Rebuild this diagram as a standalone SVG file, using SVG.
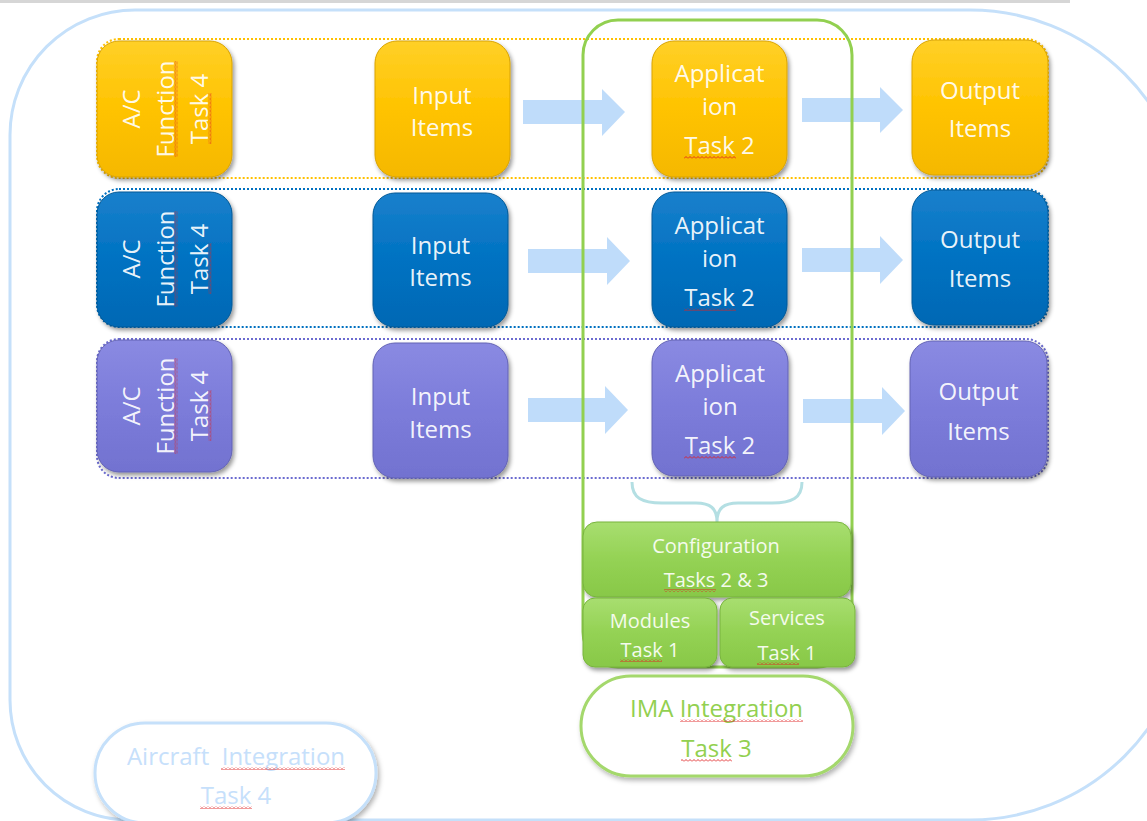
<svg xmlns="http://www.w3.org/2000/svg" width="1147" height="821" viewBox="0 0 1147 821">
<defs>
<style>
.t{font-family:"Open Sans","Liberation Sans",sans-serif;font-size:24px;fill:#ffffff;fill-opacity:0.93;text-anchor:middle}
.ts{font-family:"Open Sans","Liberation Sans",sans-serif;font-size:20px;fill:#f4fbec;text-anchor:middle}
.tg{font-family:"Open Sans","Liberation Sans",sans-serif;font-size:24px;fill:#92d050;text-anchor:middle}
.tb{font-family:"Open Sans","Liberation Sans",sans-serif;font-size:24px;fill:#c6e0fb;text-anchor:middle}
.ny{fill:url(#gY);stroke:#d9a300;stroke-width:1}
.nb{fill:url(#gB);stroke:#005896;stroke-width:1}
.np{fill:url(#gP);stroke:#6262b4;stroke-width:1}
.ng{fill:url(#gG);stroke:#78b43e;stroke-width:1}
.arr{fill:#bfdcfa}
.sq{fill:url(#sq)}
</style>
<linearGradient id="gY" x1="0" y1="0" x2="0" y2="1"><stop offset="0" stop-color="#ffd027"/><stop offset="0.5" stop-color="#ffc300"/><stop offset="1" stop-color="#f5b800"/></linearGradient>
<linearGradient id="gB" x1="0" y1="0" x2="0" y2="1"><stop offset="0" stop-color="#1a80cc"/><stop offset="0.5" stop-color="#0072c2"/><stop offset="1" stop-color="#0068b4"/></linearGradient>
<linearGradient id="gP" x1="0" y1="0" x2="0" y2="1"><stop offset="0" stop-color="#8a8ae2"/><stop offset="0.5" stop-color="#7c7cda"/><stop offset="1" stop-color="#7272d0"/></linearGradient>
<linearGradient id="gG" x1="0" y1="0" x2="0" y2="1"><stop offset="0" stop-color="#a8de70"/><stop offset="0.5" stop-color="#94d254"/><stop offset="1" stop-color="#88c848"/></linearGradient>
<filter id="sh" x="-10%" y="-10%" width="130%" height="130%"><feDropShadow dx="2" dy="3" stdDeviation="2" flood-color="#000" flood-opacity="0.4"/></filter>
<filter id="shl" x="-10%" y="-10%" width="130%" height="130%"><feDropShadow dx="2" dy="3" stdDeviation="2.5" flood-color="#000" flood-opacity="0.3"/></filter>
<pattern id="sq" width="4" height="3" patternUnits="userSpaceOnUse"><path d="M0,2.5 L2,0.5 L4,2.5" fill="none" stroke="#e02020" stroke-width="0.9"/></pattern>
</defs>

<rect x="0" y="0" width="1070" height="3" fill="#d6d6d6"/>

<g id="frame">
<path d="M135,10 L970,10 A219,219 0 0 1 1189,229 L1189,601 A219,219 0 0 1 970,820 L130,820 A120,120 0 0 1 10,700 L10,135 A125,125 0 0 1 135,10 Z" fill="none" stroke="#c5e0fa" stroke-width="3"/>
</g>

<g id="rows" fill="none" stroke-width="2" stroke-dasharray="2 2">
<rect x="97" y="39" width="951" height="139" rx="22" stroke="#ffc000"/>
<rect x="97" y="189" width="951" height="138" rx="22" stroke="#0070c0"/>
<rect x="97" y="339" width="951" height="139" rx="22" stroke="#6b6bd0"/>
</g>

<g id="connectors">
<polygon class="arr" points="523,100 602,100 602,89 625,112 602,136 602,124 523,124"/>
<polygon class="arr" points="802,98 880,98 880,87 903,110 880,133 880,122 802,122"/>
<polygon class="arr" points="528,249 607,249 607,237 630,261 607,285 607,273 528,273"/>
<polygon class="arr" points="802,248 880,248 880,236 903,260 880,284 880,272 802,272"/>
<polygon class="arr" points="528,398 605,398 605,386 628,410 605,434 605,422 528,422"/>
<polygon class="arr" points="803,399 882,399 882,387 905,411 882,435 882,423 803,423"/>
<path d="M632,482 C632,498 642,503 662,503 L696,503 C710,503 717,508 717,522 C717,508 724,503 738,503 L772,503 C792,503 802,498 802,482" fill="none" stroke="#b4dfe3" stroke-width="3"/>
</g>

<g id="ima-container">
<rect x="583" y="20" width="269" height="647" rx="35" fill="none" stroke="#92d050" stroke-width="3"/>
</g>

<!-- Yellow row -->
<g id="ac-yellow">
<rect class="ny" x="97" y="41" width="135" height="136" rx="22" filter="url(#sh)"/>
<g transform="translate(164.5,109) rotate(-90)">
<text class="t" x="0" y="-25">A/C</text>
<text class="t" x="0" y="9">Function</text>
<text class="t" x="0" y="43">Task 4</text>
<rect class="sq" x="-48" y="10" width="96" height="3"/>
<rect class="sq" x="-35" y="44" width="51" height="3"/>
</g>
</g>
<g id="in-yellow">
<rect class="ny" x="375" y="41" width="135" height="136" rx="22" filter="url(#sh)"/>
<text class="t" x="442" y="104">Input</text>
<text class="t" x="442" y="136">Items</text>
</g>
<g id="app-yellow">
<rect class="ny" x="652" y="41" width="135" height="136" rx="22" filter="url(#sh)"/>
<text class="t" x="719.5" y="82">Applicat</text>
<text class="t" x="719.5" y="115">ion</text>
<text class="t" x="719.5" y="154">Task 2</text>
<rect class="sq" x="684" y="156" width="52" height="3"/>
</g>
<g id="out-yellow">
<rect class="ny" x="912" y="40" width="136" height="135" rx="22" filter="url(#sh)"/>
<text class="t" x="980" y="99">Output</text>
<text class="t" x="980" y="137">Items</text>
</g>

<!-- Blue row -->
<g id="ac-blue">
<rect class="nb" x="97" y="192" width="135" height="135" rx="22" filter="url(#sh)"/>
<g transform="translate(164.5,259) rotate(-90)">
<text class="t" x="0" y="-25">A/C</text>
<text class="t" x="0" y="9">Function</text>
<text class="t" x="0" y="43">Task 4</text>
<rect class="sq" x="-48" y="10" width="96" height="3"/>
<rect class="sq" x="-35" y="44" width="51" height="3"/>
</g>
</g>
<g id="in-blue">
<rect class="nb" x="373" y="193" width="135" height="134" rx="22" filter="url(#sh)"/>
<text class="t" x="440.5" y="254">Input</text>
<text class="t" x="440.5" y="286">Items</text>
</g>
<g id="app-blue">
<rect class="nb" x="652" y="192" width="135" height="135" rx="22" filter="url(#sh)"/>
<text class="t" x="719.5" y="234">Applicat</text>
<text class="t" x="719.5" y="267">ion</text>
<text class="t" x="719.5" y="306">Task 2</text>
<rect class="sq" x="684" y="308" width="52" height="3"/>
</g>
<g id="out-blue">
<rect class="nb" x="912" y="190" width="136" height="135" rx="22" filter="url(#sh)"/>
<text class="t" x="980" y="248">Output</text>
<text class="t" x="980" y="287">Items</text>
</g>

<!-- Purple row -->
<g id="ac-purple">
<rect class="np" x="97" y="340" width="135" height="132" rx="22" filter="url(#sh)"/>
<g transform="translate(164.5,406) rotate(-90)">
<text class="t" x="0" y="-25">A/C</text>
<text class="t" x="0" y="9">Function</text>
<text class="t" x="0" y="43">Task 4</text>
<rect class="sq" x="-48" y="10" width="96" height="3"/>
<rect class="sq" x="-35" y="44" width="51" height="3"/>
</g>
</g>
<g id="in-purple">
<rect class="np" x="373" y="343" width="135" height="135" rx="22" filter="url(#sh)"/>
<text class="t" x="440.5" y="405">Input</text>
<text class="t" x="440.5" y="438">Items</text>
</g>
<g id="app-purple">
<rect class="np" x="652" y="340" width="136" height="136" rx="22" filter="url(#sh)"/>
<text class="t" x="720" y="382">Applicat</text>
<text class="t" x="720" y="415">ion</text>
<text class="t" x="720" y="454">Task 2</text>
<rect class="sq" x="684" y="456" width="52" height="3"/>
</g>
<g id="out-purple">
<rect class="np" x="910" y="341" width="137" height="136" rx="22" filter="url(#sh)"/>
<text class="t" x="978.5" y="400">Output</text>
<text class="t" x="978.5" y="440">Items</text>
</g>

<!-- Green platform -->
<g id="configuration">
<rect class="ng" x="583" y="522" width="268" height="75" rx="14" filter="url(#sh)"/>
<text class="ts" x="716" y="553">Configuration</text>
<text class="ts" x="716" y="587">Tasks 2 &amp; 3</text>
<rect class="sq" x="664" y="589" width="52" height="3"/>
</g>
<g id="modules">
<rect class="ng" x="583" y="598" width="134" height="69" rx="12" filter="url(#sh)"/>
<text class="ts" x="650" y="628">Modules</text>
<text class="ts" x="650" y="657">Task 1</text>
<rect class="sq" x="620" y="659" width="42" height="3"/>
</g>
<g id="services">
<rect class="ng" x="720" y="598" width="135" height="69" rx="12" filter="url(#sh)"/>
<text class="ts" x="787" y="625">Services</text>
<text class="ts" x="787" y="660">Task 1</text>
<rect class="sq" x="757" y="662" width="42" height="3"/>
</g>

<g id="ima-integration">
<rect x="581" y="676" width="272" height="100" rx="50" fill="#ffffff" stroke="#a4d86c" stroke-width="3" filter="url(#shl)"/>
<text class="tg" x="716.5" y="717">IMA Integration</text>
<text class="tg" x="716.5" y="757">Task 3</text>
<rect class="sq" x="680" y="719" width="123" height="3"/>
<rect class="sq" x="681" y="759" width="51" height="3"/>
</g>

<g id="aircraft-integration">
<rect x="95" y="723" width="281" height="100" rx="50" fill="#ffffff" stroke="#c5e0fa" stroke-width="3" filter="url(#shl)"/>
<text class="tb" x="236" y="765" xml:space="preserve">Aircraft  Integration</text>
<text class="tb" x="236" y="804">Task 4</text>
<rect class="sq" x="221" y="767" width="124" height="3"/>
<rect class="sq" x="200" y="806" width="52" height="3"/>
</g>
</svg>
